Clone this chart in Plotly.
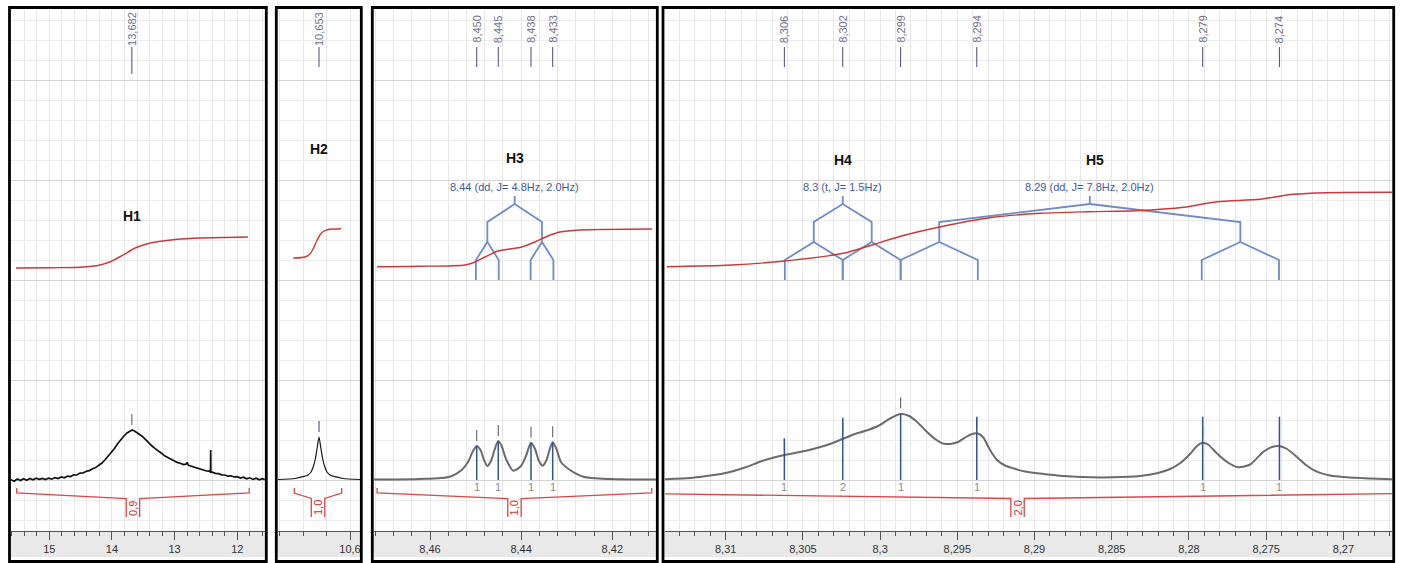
import plotly.graph_objects as go

W, H = 1405, 563

# ---------------- data ----------------
# x windows of the four panels (ppm, left edge -> right edge)
p1_range = [15.611, 11.558]
p2_range = [10.7231, 10.5829]
p3_range = [8.47229, 8.41041]
p4_range = [8.31393, 8.26685]

# axis tick values / labels
p1_ticks = [15, 14, 13, 12]
p1_ticktext = ["15", "14", "13", "12"]
p2_ticks = [10.6]
p2_ticktext = ["10,6"]
p3_ticks = [8.46, 8.44, 8.42]
p3_ticktext = ["8,46", "8,44", "8,42"]
p4_ticks = [8.31, 8.305, 8.30, 8.295, 8.29, 8.285, 8.28, 8.275, 8.27]
p4_ticktext = ["8,31", "8,305", "8,3", "8,295", "8,29", "8,285", "8,28", "8,275", "8,27"]
minor_steps = [0.2, 0.04, 0.004, 0.001]

# spectra (ppm, intensity above baseline)
p1_ppm = [15.61, 15.56, 15.51, 15.46, 15.41, 15.36, 15.31, 15.26, 15.21, 15.16, 15.11, 15.06,
          15.01, 14.96, 14.91, 14.86, 14.81, 14.76, 14.71, 14.66, 14.61, 14.56, 14.51, 14.46,
          14.41, 14.36, 14.31, 14.26, 14.21, 14.16, 14.11, 14.06, 14.01, 13.96, 13.91, 13.86,
          13.81, 13.76, 13.72, 13.68, 13.64, 13.60, 13.56, 13.51, 13.46, 13.41, 13.36, 13.31,
          13.26, 13.21, 13.16, 13.11, 13.06, 13.01, 12.96, 12.91, 12.86, 12.82, 12.80, 12.78,
          12.74, 12.69, 12.64, 12.59, 12.54, 12.49, 12.45, 12.428, 12.425, 12.422, 12.40, 12.35,
          12.30, 12.25, 12.20, 12.15, 12.10, 12.05, 12.00, 11.95, 11.90, 11.85, 11.80, 11.75,
          11.70, 11.65, 11.60, 11.56]
p1_int = [0.3, -1.2, 1.0, -0.6, 1.3, -0.2, 1.5, 0.2, 1.8, 0.6, 1.6, 0.4,
          1.9, 0.8, 2.4, 1.5, 3.0, 2.2, 3.9, 3.4, 5.2, 5.0, 6.9, 7.0,
          8.8, 9.4, 11.2, 12.4, 14.8, 17.0, 20.2, 23.6, 27.8, 31.5, 36.2, 40.4,
          44.0, 47.0, 48.8, 50.0, 49.0, 47.6, 45.5, 43.4, 40.0, 37.2, 34.0, 31.4,
          28.6, 26.8, 24.2, 22.4, 20.6, 19.4, 17.6, 16.8, 15.4, 15.8, 17.6, 14.6,
          13.8, 12.6, 11.8, 10.6, 10.2, 9.0, 8.8, 8.0, 30.0, 7.8, 7.8, 6.6,
          6.4, 5.2, 5.0, 3.8, 4.2, 3.0, 3.4, 2.0, 2.8, 1.2, 2.2, 0.6,
          1.8, 0.2, 1.4, 0.4]

p2_ppm = [10.72308, 10.69402, 10.68034, 10.67179, 10.66667, 10.66239, 10.65897, 10.65590,
          10.65299, 10.65009, 10.64701, 10.64359, 10.63932, 10.63419, 10.62564, 10.61197, 10.58291]
p2_int = [0.5, 1.5, 3.3, 5, 8, 14, 22, 33, 43, 33, 22, 14, 8, 5, 3.3, 1.5, 0.5]

p3_ppm = [8.47229, 8.46219, 8.45561, 8.45305, 8.45166, 8.45068, 8.44975, 8.44881, 8.44815,
          8.44743, 8.44662, 8.44585, 8.44502, 8.44420, 8.44333, 8.44172, 8.44004, 8.43894,
          8.43784, 8.43696, 8.43609, 8.43527, 8.43444, 8.43378, 8.43308, 8.43225, 8.43126,
          8.42928, 8.42637, 8.42051, 8.41042]
p3_int = [0.5, 1, 3.3, 10, 18, 28, 34, 29, 20, 14, 19, 30, 39, 33, 21, 9.3, 14, 24,
          37.3, 31, 19, 14.3, 20, 30, 37.7, 31, 18, 10, 3.3, 1, 0.5]

p4_ppm = [8.31393, 8.31212, 8.31102, 8.30992, 8.30875, 8.30778, 8.30700, 8.30620, 8.30519,
          8.30422, 8.30324, 8.30244, 8.30163, 8.30078, 8.30001, 8.29936, 8.29868, 8.29819,
          8.29767, 8.29709, 8.29644, 8.29593, 8.29547, 8.29495, 8.29444, 8.29405, 8.29372,
          8.29334, 8.29288, 8.29243, 8.29191, 8.29139, 8.29062, 8.28964, 8.28815, 8.28641,
          8.28492, 8.28317, 8.28207, 8.28122, 8.28058, 8.27993, 8.27948, 8.27911, 8.27876,
          8.27820, 8.27753, 8.27680, 8.27604, 8.27518, 8.27462, 8.27415, 8.27365, 8.27302,
          8.27242, 8.27172, 8.27086, 8.26978, 8.26827, 8.26685]
p4_int = [0.7, 2.3, 4.5, 7.3, 12.5, 18.3, 22, 25, 28, 31.5, 36, 41, 46, 50, 55, 61.5, 66,
          64.5, 59, 50, 41, 36.5, 36, 38, 43, 46, 46.7, 43, 30, 20, 14.5, 11.7, 8.5, 6.5,
          4, 2.7, 2.7, 4, 6.7, 11, 16.7, 26, 34, 37.3, 35.5, 26.7, 18, 12.7, 15.5, 28.3,
          33, 34, 31, 23.3, 15, 8.3, 4.5, 2.7, 1.5, 0.7]

# integral curves (ppm, running integral level)
p1_icurve_ppm = [15.531, 14.989, 14.510, 14.191, 14.0, 13.82, 13.63, 13.45, 13.25, 12.99, 12.60, 11.83]
p1_icurve = [212, 212.3, 212.8, 215, 219, 225, 232, 236, 238.5, 240.5, 242, 243]
p2_icurve_ppm = [10.6969, 10.6769, 10.6684, 10.6632, 10.6569, 10.6513, 10.6456, 10.6371, 10.6154]
p2_icurve = [222, 223, 226, 231, 239, 245, 248.5, 250.5, 251.3]
p3_icurve_ppm = [8.47163, 8.46219, 8.45232, 8.45013, 8.44793, 8.44508, 8.44245, 8.43982,
                 8.43696, 8.43411, 8.43148, 8.42709, 8.41129]
p3_icurve = [213.3, 213.7, 215, 218, 223, 229, 231, 233, 238, 244, 248, 250, 251]
p4_icurve_ppm = [8.31380, 8.30963, 8.30617, 8.30238, 8.30053, 8.29862, 8.29606, 8.29267,
                 8.28958, 8.28650, 8.28343, 8.28033, 8.27818, 8.27540, 8.27324, 8.27107, 8.26676]
p4_icurve = [213.3, 215, 219, 226.7, 235, 244, 253.3, 262.7, 266.7, 268.3, 269.3, 272.7,
             278.3, 280.7, 285.7, 287.3, 287.7]

# integral regions and values
integral_from = [15.52, 10.6952, 8.4716, 8.3185]
integral_to = [11.81, 10.6142, 8.41134, 8.2637]
integral_value = [0.9, 1.0, 1.0, 2.0]

# picked peaks
p1_peaks = [13.682]
p1_peak_top = [50]
p2_peaks = [10.653]
p2_peak_top = [43]
p3_peaks = [8.44975, 8.44502, 8.43784, 8.43308]
p3_peak_top = [34, 39, 37.3, 37.7]
p3_line_h = [34, 39, 37.3, 37.7]
p3_peak_nH = [1, 1, 1, 1]
p4_peaks = [8.30620, 8.30242, 8.29867, 8.29374, 8.27911, 8.27414]
p4_peak_top = [25, 41, 66.7, 46.7, 37.3, 34]
p4_line_h = [41.7, 62.3, 66.7, 63.3, 63.3, 63.3]
p4_peak_nH = [1, 2, 1, 1, 1, 1]

# multiplets
mult_panel = [2, 3, 3]
mult_center = [8.44142, 8.30242, 8.28642]
mult_J = [[4.8, 2.0], [1.5, 1.5], [7.8, 2.0]]
mult_text = ["8.44 (dd, J= 4.8Hz, 2.0Hz)", "8.3 (t, J= 1.5Hz)", "8.29 (dd, J= 7.8Hz, 2.0Hz)"]
spectrometer_MHz = 400.0

# proton labels
h_names = ["H1", "H2", "H3", "H4", "H5"]
h_panel = [0, 1, 2, 3, 3]
h_ppm = [13.682, 10.653, 8.44142, 8.30242, 8.2861]

# ---------------- layout helpers ----------------
FONT = "Liberation Sans, Arial, sans-serif"
TOP_PX, BOT_PX = 9, 531          # plot area rows
BASE_PX = 480                    # spectrum baseline row


def U(py):
    """pixel row -> y-axis units (height above baseline)"""
    return BASE_PX - py


def PX(px):
    return px / W


def PY(py):
    return (BOT_PX - py) / (BOT_PX - TOP_PX)


panel_px = [(11, 265), (278, 360), (374, 656), (665, 1392)]
frame_px = [(9.5, 266.3), (276.3, 361.3), (372.3, 657.3), (663.0, 1393.7)]
ranges = [p1_range, p2_range, p3_range, p4_range]
ticks = [(p1_ticks, p1_ticktext), (p2_ticks, p2_ticktext), (p3_ticks, p3_ticktext), (p4_ticks, p4_ticktext)]
spectra = [(p1_ppm, p1_int), (p2_ppm, p2_int), (p3_ppm, p3_int), (p4_ppm, p4_int)]
icurves = [(p1_icurve_ppm, p1_icurve), (p2_icurve_ppm, p2_icurve), (p3_icurve_ppm, p3_icurve), (p4_icurve_ppm, p4_icurve)]
peaks = [(p1_peaks, p1_peak_top), (p2_peaks, p2_peak_top), (p3_peaks, p3_peak_top), (p4_peaks, p4_peak_top)]

fig = go.Figure()
layout = dict(width=W, height=H, margin=dict(l=0, r=0, t=TOP_PX, b=H - BOT_PX),
              paper_bgcolor="white", plot_bgcolor="white", showlegend=False,
              font=dict(family=FONT, size=11, color="#333"))
annotations = []
shapes = []

GRID = "#e6e6e6"
RED_INT = "#c83a3a"
RED_BR = "#d84848"
BLUE_LINE = "#2f5597"
TREE = "#6f8cc6"


def names(i):
    s = "" if i == 0 else str(i + 1)
    return "x" + s, "y" + s, "xaxis" + s, "yaxis" + s


def ppx(i):
    a, b = panel_px[i]
    return (b - a) / (ranges[i][0] - ranges[i][1])


for i in range(4):
    xr, yr, xk, yk = names(i)
    a, b = panel_px[i]
    tv, tt = ticks[i]
    layout[xk] = dict(domain=[PX(a), PX(b)], range=ranges[i], anchor=yr,
                      tickmode="array", tickvals=tv, ticktext=tt,
                      ticks="outside", ticklen=8, tickwidth=1, tickcolor="#555",
                      showline=True, linecolor="#555", linewidth=1, mirror=False,
                      showgrid=True, gridcolor=GRID, gridwidth=1, zeroline=False,
                      tickfont=dict(size=11, color="#333", family=FONT),
                      minor=dict(tick0=tv[0], dtick=minor_steps[i], ticks="outside", ticklen=4,
                                 tickwidth=1, tickcolor="#555", showgrid=True, gridcolor=GRID),
                      fixedrange=True)
    layout[yk] = dict(domain=[0, 1], range=[U(BOT_PX), U(TOP_PX)], anchor=xr,
                      showticklabels=False, ticks="", showline=False, zeroline=False,
                      showgrid=True, gridcolor="#d4d4d4", tick0=0, dtick=100,
                      minor=dict(tick0=0, dtick=20, showgrid=True, gridcolor="#ececec"),
                      fixedrange=True)

    # gray axis band and panel frame
    fa, fb = frame_px[i]
    shapes.append(dict(type="rect", xref="paper", yref="paper", x0=PX(fa + 1.3), x1=PX(fb - 1.3),
                       y0=PY(531.5), y1=PY(557), fillcolor="#e9e9e9", line=dict(width=0), layer="below"))
    shapes.append(dict(type="rect", xref="paper", yref="paper", x0=PX(fa), x1=PX(fb),
                       y0=PY(7.5), y1=PY(561.5), line=dict(color="#000", width=2.8),
                       fillcolor="rgba(0,0,0,0)", layer="above"))

    # multiplet trees (drawn under the integral curve)
    for m in range(len(mult_center)):
        if mult_panel[m] != i:
            continue
        c = mult_center[m]
        xs, ys = [c, c, None], [U(196), U(204), None]
        nodes = [c]
        for k, J in enumerate(mult_J[m]):
            y0 = 204 + 38 * k
            d = J / spectrometer_MHz / 2.0
            new = []
            for n in nodes:
                for sgn in (1, -1):
                    ch = n + sgn * d
                    xs += [n, ch, ch, None]
                    ys += [U(y0), U(y0 + 18), U(y0 + 38), None]
                    new.append(ch)
            nodes = new
        fig.add_trace(go.Scatter(x=xs, y=ys, mode="lines", xaxis=xr, yaxis=yr,
                                 line=dict(color=TREE, width=1.8), hoverinfo="skip"))
        annotations.append(dict(x=c, y=U(187), xref=xr, yref=yr, text=mult_text[m], showarrow=False,
                                font=dict(size=11, color="#3d5c9a", family=FONT)))

    # integral curve
    ix, iy = icurves[i]
    fig.add_trace(go.Scatter(x=ix, y=iy, mode="lines", xaxis=xr, yaxis=yr,
                             line=dict(color=RED_INT, width=1.4, shape="spline", smoothing=0.8),
                             hoverinfo="skip"))

    # integral bracket
    lo, hi = integral_from[i], integral_to[i]
    cen = (lo + hi) / 2.0
    g = 6.7 / ppx(i)
    bx = [lo, lo, cen + g, cen + g, None, cen - g, cen - g, hi, hi]
    by = [U(488), U(493), U(498.5), U(517), None, U(517), U(498.5), U(493), U(488)]
    fig.add_trace(go.Scatter(x=bx, y=by, mode="lines", xaxis=xr, yaxis=yr,
                             line=dict(color=RED_BR, width=1.3), hoverinfo="skip"))
    annotations.append(dict(x=cen, y=U(508), xref=xr, yref=yr,
                            text=f"{integral_value[i]:.1f}".replace(".", ","), textangle=-90,
                            showarrow=False, font=dict(size=11, color="#d03030", family=FONT)))

    # spectrum
    sx, sy = spectra[i]
    if i == 0:
        sline = dict(color="#111", width=1.7)
    elif i == 1:
        sline = dict(color="#1a1a1a", width=1.2, shape="spline", smoothing=0.6)
    else:
        sline = dict(color="#6b6b6b", width=2, shape="spline", smoothing=0.7)
    fig.add_trace(go.Scatter(x=sx, y=sy, mode="lines", xaxis=xr, yaxis=yr, line=sline, hoverinfo="skip"))

    # picked peaks: small tick over the top, label + short line at the top of the panel
    pk, top = peaks[i]
    tx, ty, lx, ly = [], [], [], []
    line_end_px = 74 if i == 0 else 67
    for p, t in zip(pk, top):
        tx += [p, p, None]
        ty += [t + 5, t + 16, None]
        lx += [p, p, None]
        ly += [U(47), U(line_end_px), None]
        annotations.append(dict(x=p, y=U(29), xref=xr, yref=yr, text=f"{p:.3f}".replace(".", ","),
                                textangle=-90, showarrow=False,
                                font=dict(size=11, color="#70708c", family=FONT)))
    fig.add_trace(go.Scatter(x=tx, y=ty, mode="lines", xaxis=xr, yaxis=yr,
                             line=dict(color="#555" if i != 1 else "#3a3a6a", width=1), hoverinfo="skip"))
    fig.add_trace(go.Scatter(x=lx, y=ly, mode="lines", xaxis=xr, yaxis=yr,
                             line=dict(color="#4b4b7b", width=1), hoverinfo="skip"))

# multiplet lines (blue) with proton counts
for i, (pk, hh, nh) in zip([2, 3], [(p3_peaks, p3_line_h, p3_peak_nH), (p4_peaks, p4_line_h, p4_peak_nH)]):
    xr, yr, _, _ = names(i)
    bx, byy = [], []
    for p, h, n in zip(pk, hh, nh):
        bx += [p, p, None]
        byy += [0, h, None]
        annotations.append(dict(x=p, y=U(486.5), xref=xr, yref=yr, text=str(n), showarrow=False,
                                font=dict(size=11, color="#8c8c8c", family=FONT)))
    fig.add_trace(go.Scatter(x=bx, y=byy, mode="lines", xaxis=xr, yaxis=yr,
                             line=dict(color=BLUE_LINE, width=1.5), hoverinfo="skip"))

# proton labels
h_rows = [216, 149, 158, 160, 160]
for name, pi, p, row in zip(h_names, h_panel, h_ppm, h_rows):
    xr, yr, _, _ = names(pi)
    annotations.append(dict(x=p, y=U(row), xref=xr, yref=yr, text=f"<b>{name}</b>", showarrow=False,
                            font=dict(size=14, color="#111", family=FONT)))

layout["annotations"] = annotations
layout["shapes"] = shapes
fig.update_layout(**layout)
fig.write_html("out.html")
